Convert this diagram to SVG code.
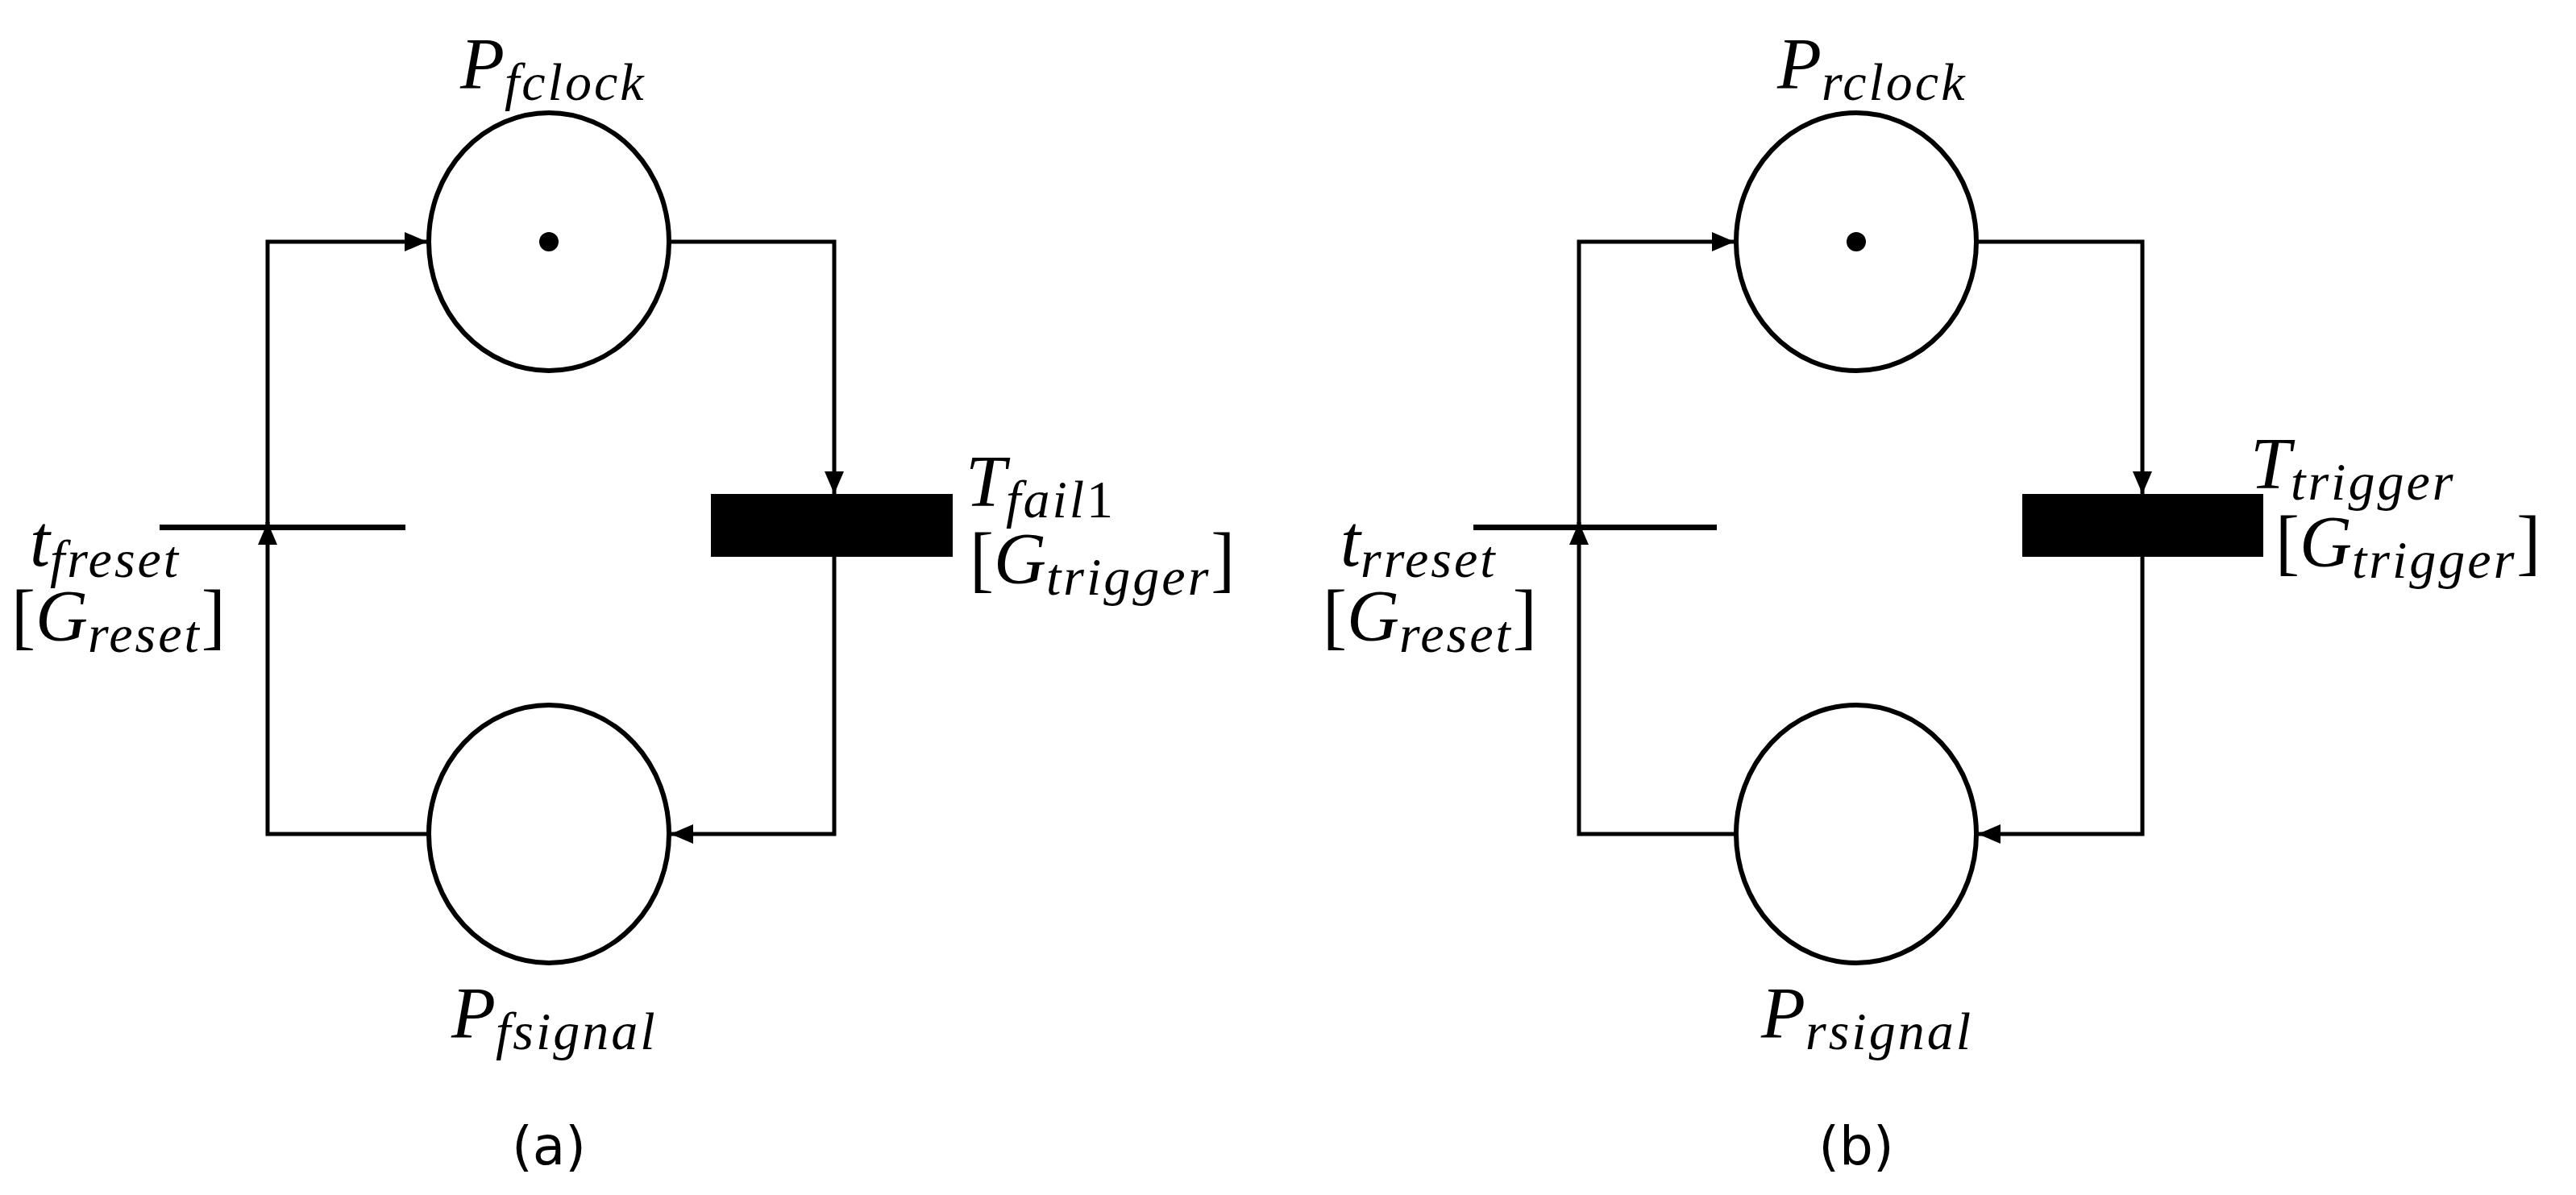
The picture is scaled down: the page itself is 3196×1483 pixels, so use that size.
<svg xmlns="http://www.w3.org/2000/svg" width="3196" height="1483" viewBox="0 0 3196 1483">
<style>
.pl{fill:#fff;stroke:#000;stroke-width:6}
.ln{fill:none;stroke:#000;stroke-width:5}
.m{font-family:"Liberation Serif",serif;font-style:italic;font-size:90px;fill:#000}
.s{font-size:66px;letter-spacing:3px}
.u{font-style:normal}
.cap{font-family:"DejaVu Sans",sans-serif;font-size:66px;text-anchor:middle}
</style>
<defs>
<marker id="a" viewBox="0 0 10 10" refX="10" refY="5" markerWidth="28" markerHeight="24" orient="auto" markerUnits="userSpaceOnUse" preserveAspectRatio="none"><path d="M0,0L10,5L0,10z" fill="#000"/></marker>
</defs>
<g id="connectors">
<path class="ln" d="M332,654V300H530" marker-end="url(#a)"/>
<path class="ln" d="M532,1035H332V648" marker-end="url(#a)"/>
<path class="ln" d="M830,300H1035V613" marker-end="url(#a)"/>
<path class="ln" d="M1035,691V1035H832" marker-end="url(#a)"/>
<path class="ln" d="M2154,1035H1959V648" marker-end="url(#a)"/>
<path class="ln" d="M1959,654V300H2152" marker-end="url(#a)"/>
<path class="ln" d="M2452,300H2658V613" marker-end="url(#a)"/>
<path class="ln" d="M2658,691V1035H2454" marker-end="url(#a)"/>
</g>
<g id="a_clock"><ellipse class="pl" cx="681" cy="300" rx="149" ry="160"/><circle cx="681" cy="300" r="12"/><text class="m" x="571" y="110">P<tspan class="s" dy="14">fclock</tspan></text></g>
<g id="a_signal"><ellipse class="pl" cx="681" cy="1035" rx="149" ry="160"/><text class="m" x="560" y="1288">P<tspan class="s" dy="14">fsignal</tspan></text></g>
<g id="a_reset"><rect x="198" y="651" width="305" height="7"/><text class="m" x="37" y="702">t<tspan class="s" dy="14">freset</tspan></text><text class="m" x="14" y="795"><tspan class="u">[</tspan>G<tspan class="s" dy="14">reset</tspan><tspan class="u" dy="-14">]</tspan></text></g>
<g id="a_fail"><rect x="882" y="613" width="300" height="78"/><text class="m" x="1198" y="628">T<tspan class="s" dy="14">fail</tspan><tspan class="s u">1</tspan></text><text class="m" x="1203" y="724"><tspan class="u">[</tspan>G<tspan class="s" dy="14">trigger</tspan><tspan class="u" dy="-14">]</tspan></text></g>
<text class="cap" x="681" y="1445">(a)</text>
<g id="b_clock"><ellipse class="pl" cx="2303" cy="300" rx="149" ry="160"/><circle cx="2303" cy="300" r="12"/><text class="m" x="2205" y="110">P<tspan class="s" dy="14">rclock</tspan></text></g>
<g id="b_signal"><ellipse class="pl" cx="2303" cy="1035" rx="149" ry="160"/><text class="m" x="2185" y="1288">P<tspan class="s" dy="14">rsignal</tspan></text></g>
<g id="b_reset"><rect x="1828" y="651" width="302" height="7"/><text class="m" x="1663" y="702">t<tspan class="s" dy="14">rreset</tspan></text><text class="m" x="1641" y="795"><tspan class="u">[</tspan>G<tspan class="s" dy="14">reset</tspan><tspan class="u" dy="-14">]</tspan></text></g>
<g id="b_trigger"><rect x="2509" y="613" width="299" height="78"/><text class="m" x="2792" y="606">T<tspan class="s" dy="14">trigger</tspan></text><text class="m" x="2823" y="703"><tspan class="u">[</tspan>G<tspan class="s" dy="14">trigger</tspan><tspan class="u" dy="-14">]</tspan></text></g>
<text class="cap" x="2303" y="1445">(b)</text>
</svg>
